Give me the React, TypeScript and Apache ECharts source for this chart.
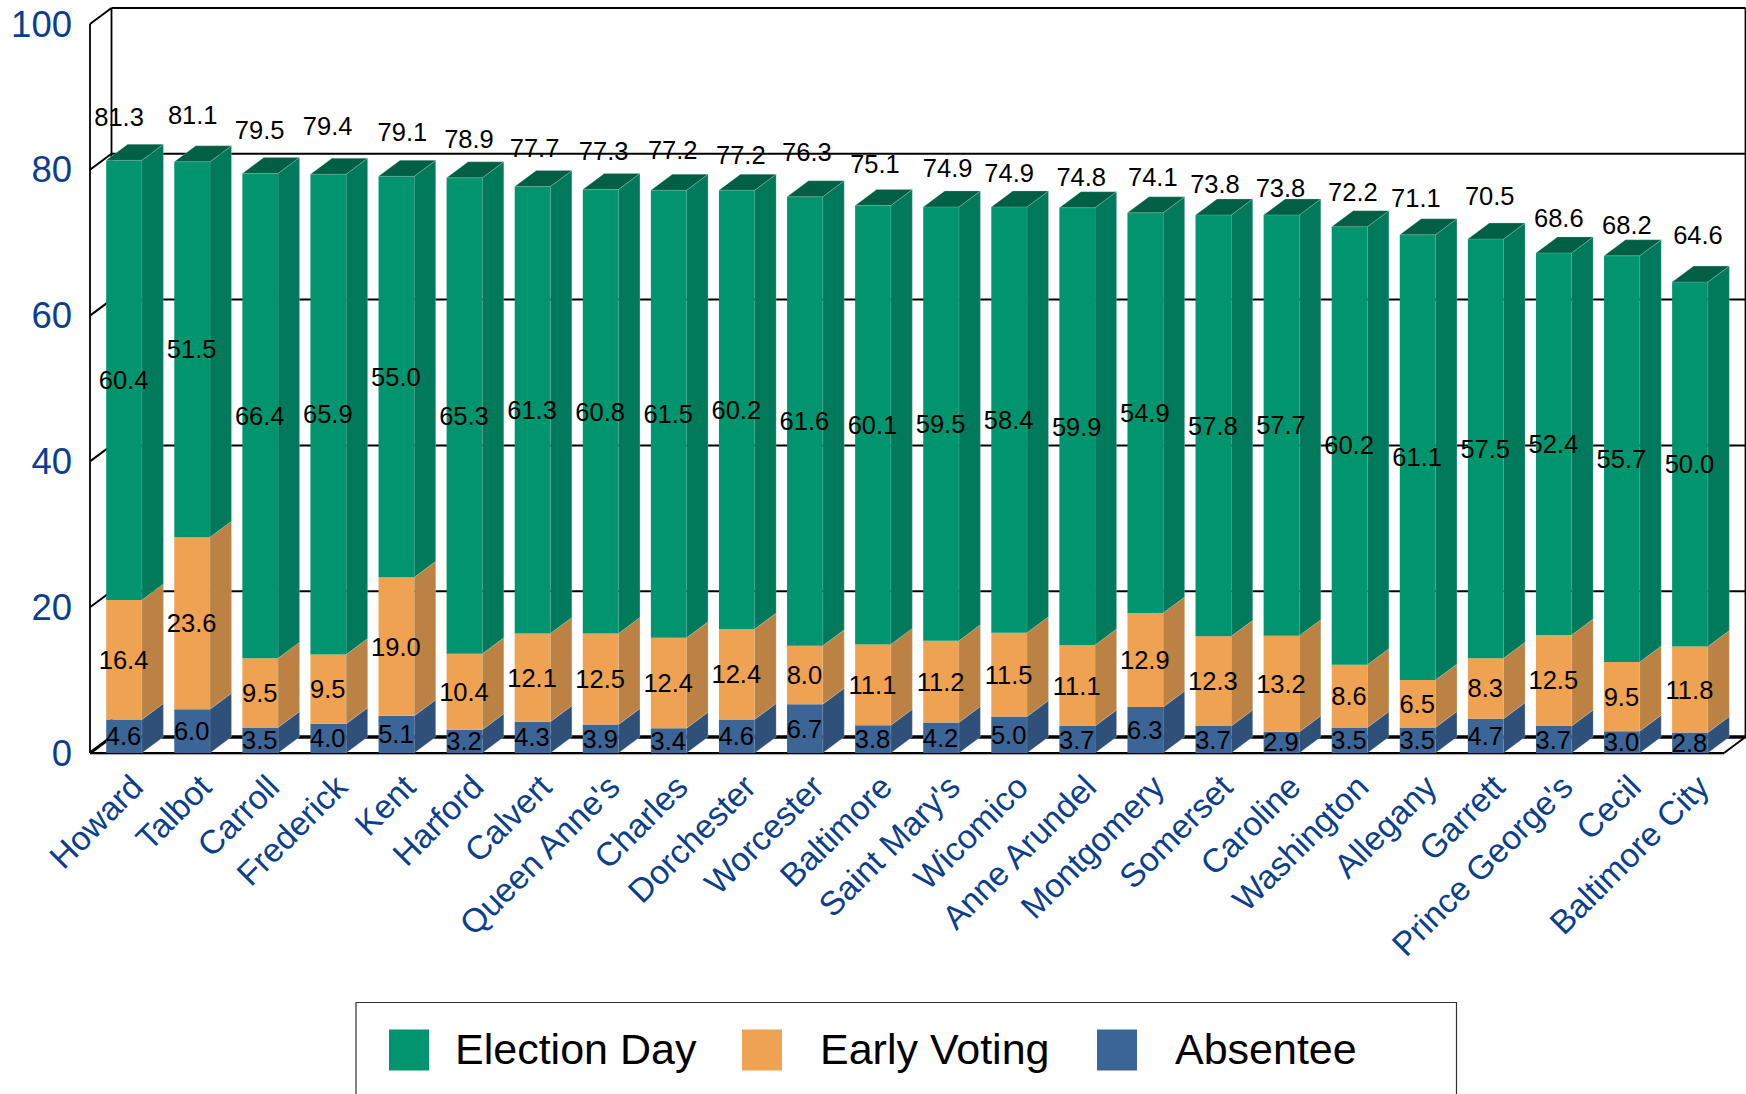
import React, { useEffect, useRef } from "react";
import * as echarts from "echarts";

const counties = ["Howard","Talbot","Carroll","Frederick","Kent","Harford","Calvert","Queen Anne's","Charles","Dorchester","Worcester","Baltimore","Saint Mary's","Wicomico","Anne Arundel","Montgomery","Somerset","Caroline","Washington","Allegany","Garrett","Prince George's","Cecil","Baltimore City"];
const totals = [81.3,81.1,79.5,79.4,79.1,78.9,77.7,77.3,77.2,77.2,76.3,75.1,74.9,74.9,74.8,74.1,73.8,73.8,72.2,71.1,70.5,68.6,68.2,64.6];
const electionDay = [60.4,51.5,66.4,65.9,55.0,65.3,61.3,60.8,61.5,60.2,61.6,60.1,59.5,58.4,59.9,54.9,57.8,57.7,60.2,61.1,57.5,52.4,55.7,50.0];
const earlyVoting = [16.4,23.6,9.5,9.5,19.0,10.4,12.1,12.5,12.4,12.4,8.0,11.1,11.2,11.5,11.1,12.9,12.3,13.2,8.6,6.5,8.3,12.5,9.5,11.8];
const absentee = [4.6,6.0,3.5,4.0,5.1,3.2,4.3,3.9,3.4,4.6,6.7,3.8,4.2,5.0,3.7,6.3,3.7,2.9,3.5,3.5,4.7,3.7,3.0,2.8];
const yTicks = [0,20,40,60,80,100];

// Label nudges (px) for the totals above the bars, which sit irregularly in the reference.
const totalNudgeX = [-5,0.6,-0.6,-0.6,6,4.5,2,3,4,4,2,2,6.6,0,4,7.5,1.6,-1,3.4,-1.7,4,5,5,8];
const totalLift = [43.5,47,43.6,48.4,44,39,38.8,38.7,40.4,35.4,44.5,41.8,39,34.4,31,36,31,27,34.4,37,43.4,35,31,47.4];

const FONT = "'Liberation Sans', Arial, sans-serif";
const DX = 21.5, DY = 16, BAR_RATIO = 0.524;
const BLUE_TEXT = "#0A3F8E";

const segment = (name: string, front: string, side: string, top: string | null, starts: number[], ends: number[]) => ({
  type: "custom" as const,
  name,
  clip: false,
  itemStyle: { color: front },
  encode: { x: 0, y: 2 },
  data: ends.map((v, i) => [i, starts[i], v]),
  z: 3,
  renderItem: (_p: any, api: any) => {
    const i = api.value(0);
    const band = api.size([1, 0])[0];
    const w = band * BAR_RATIO;
    const a = api.coord([i, api.value(1)]);
    const b = api.coord([i, api.value(2)]);
    const l = a[0] - w / 2, r = a[0] + w / 2;
    const children: any[] = [
      { type: "polygon", shape: { points: [[r, a[1]], [r + DX, a[1] - DY], [r + DX, b[1] - DY], [r, b[1]]] }, style: { fill: side, stroke: "rgba(200,215,210,0.35)", lineWidth: 0.8 } },
      { type: "rect", shape: { x: l, y: b[1], width: w, height: a[1] - b[1] }, style: { fill: front } },
    ];
    if (top) {
      children.push({ type: "polygon", shape: { points: [[l, b[1]], [r, b[1]], [r + DX, b[1] - DY], [l + DX, b[1] - DY]] }, style: { fill: top, stroke: "rgba(200,215,210,0.35)", lineWidth: 0.8 } });
    }
    return { type: "group", children };
  },
});

const absStart = absentee.map(() => 0);
const earlyStart = absentee.slice();
const electionStart = absentee.map((v, i) => v + earlyVoting[i]);
const earlyEnd = electionStart;

const segmentLabels = [
  ...absentee.map((v, i) => ({ i, y: absStart[i] + v / 2, text: v.toFixed(1), dx: -0.5, lift: 0 })),
  ...earlyVoting.map((v, i) => ({ i, y: earlyStart[i] + v / 2, text: v.toFixed(1), dx: -0.5, lift: 0 })),
  ...electionDay.map((v, i) => ({ i, y: electionStart[i] + v / 2, text: v.toFixed(1), dx: -0.5, lift: 0 })),
  ...totals.map((v, i) => ({ i, y: v, text: v.toFixed(1), dx: totalNudgeX[i], lift: totalLift[i] })),
];

export default function App() {
  const ref = useRef<HTMLDivElement>(null);
  useEffect(() => {
    const chart = echarts.init(ref.current!, undefined, { renderer: "svg" });
    const legendItem = (name: string, left: number, gap: number) => ({
      orient: "horizontal" as const, icon: "rect", itemWidth: 40, itemHeight: 41, itemGap: 0, padding: 0,
      selectedMode: false, top: 1027.3, left,
      data: [name],
      formatter: "{t|{name}}",
      textStyle: {
        rich: { t: { fontFamily: FONT, fontSize: 43, color: "#000", padding: [0, 0, 2.5, gap] } },
      },
    });
    chart.setOption({
      animation: false,
      backgroundColor: "#fff",
      grid: [
        { left: 90, top: 24, width: 1634, height: 729, containLabel: false },
        { left: 103, top: 24, width: 1634, height: 729, containLabel: false },
      ],
      xAxis: [
        {
          type: "category", data: counties, boundaryGap: true, gridIndex: 0,
          axisLine: { show: false }, axisTick: { show: false }, splitLine: { show: false }, axisLabel: { show: false },
        },
        {
          type: "category", data: counties, boundaryGap: true, gridIndex: 1,
          axisLine: { show: false }, axisTick: { show: false }, splitLine: { show: false },
          axisLabel: { interval: 0, rotate: 45, margin: 28, fontFamily: FONT, fontSize: 33.5, color: BLUE_TEXT },
        },
      ],
      yAxis: [
        {
          type: "value", min: 0, max: 100, interval: 20, gridIndex: 0,
          axisLine: { show: false }, axisTick: { show: false }, splitLine: { show: false },
          axisLabel: { margin: 18, fontFamily: FONT, fontSize: 36.5, color: BLUE_TEXT },
        },
        {
          type: "value", min: 0, max: 100, interval: 20, gridIndex: 1, show: false,
        },
      ],
      legend: [
        legendItem("Election Day", 389, 21),
        legendItem("Early Voting", 742, 33),
        legendItem("Absentee", 1097, 33),
      ],
      graphic: [
        { type: "polyline", silent: true, shape: { points: [[356, 1110], [356, 1002.5], [1456.5, 1002.5], [1456.5, 1110]] }, style: { fill: "none", stroke: "#333", lineWidth: 1.2 } },
      ],
      series: [
        {
          type: "custom", name: "frame", clip: false, z: 1, silent: true,
          encode: { x: 0, y: 1 },
          data: yTicks.map((t) => [0, t]),
          renderItem: (params: any, api: any) => {
            const c = params.coordSys;
            const x0 = c.x, x1 = c.x + c.width;
            const t = api.value(1);
            const y = api.coord([0, t])[1];
            const line = (x1a: number, y1a: number, x2a: number, y2a: number, w = 2, stroke = "#000") => ({
              type: "line", shape: { x1: x1a, y1: y1a, x2: x2a, y2: y2a }, style: { stroke, lineWidth: w },
            });
            const kids: any[] = [
              line(x0 + DX, y - DY, x1 + DX, y - DY, t === 0 ? 3.5 : 2),
              line(x0, y, x0 + DX, y - DY, t === 0 ? 3 : 2),
            ];
            if (t === 0) {
              const yTop = c.y;
              kids.push(
                line(x0, y, x0, yTop, 1.8),
                line(x0 + DX, y - DY, x0 + DX, yTop - DY, 1.8),
                line(x1 + DX, y - DY, x1 + DX, yTop - DY, 1.8),
                line(x0, y, x1, y, 2),
                line(x1, y, x1 + DX, y - DY, 2),
                line(x0, y + 1.6, x1, y + 1.6, 1, "#a8a8a8"),
              );
            }
            return { type: "group", children: kids };
          },
        },
        segment("Absentee", "#3B6596", "#2F5079", null, absStart, absentee),
        segment("Early Voting", "#EFA252", "#BC8243", null, earlyStart, earlyEnd),
        segment("Election Day", "#00956E", "#007A5A", "#005F45", electionStart, totals),
        {
          type: "custom", name: "labels", clip: false, z: 5, silent: true,
          encode: { x: 0, y: 1 },
          data: segmentLabels.map((d) => [d.i, d.y]),
          renderItem: (params: any, api: any) => {
            const d = segmentLabels[params.dataIndex];
            const p = api.coord([d.i, d.y]);
            return {
              type: "text",
              style: {
                x: p[0] + d.dx, y: p[1] - d.lift, text: d.text, align: "center", verticalAlign: "middle",
                fontFamily: FONT, fontSize: 25.5, fill: "#000",
              },
            };
          },
        },
      ],
    });
    return () => chart.dispose();
  }, []);
  return <div ref={ref} style={{ position: "fixed", left: 0, top: 0, width: 1746, height: 1094 }} />;
}
